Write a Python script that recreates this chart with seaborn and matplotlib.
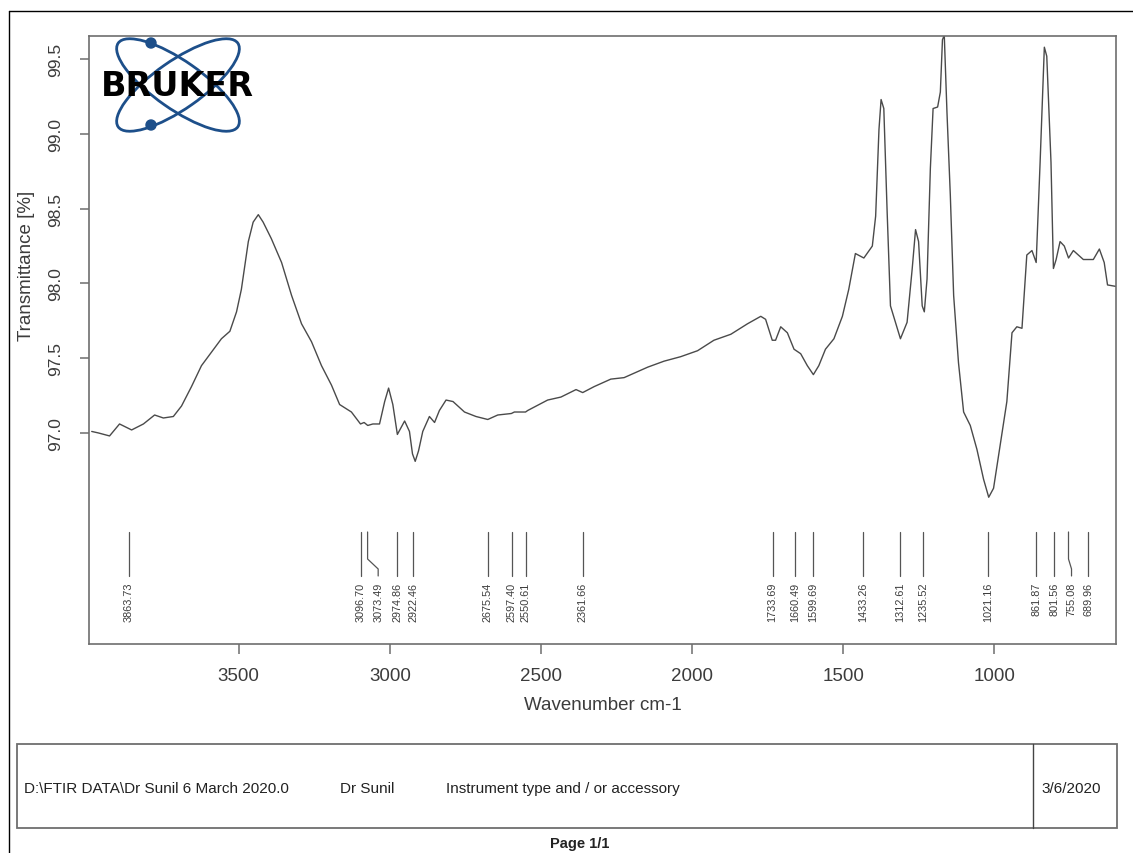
import pandas as pd
import seaborn as sns
import matplotlib.pyplot as plt
from matplotlib.patches import Ellipse, Circle, Rectangle
from matplotlib.transforms import blended_transform_factory

# spectrum (wavenumber cm-1, transmittance %)
wavenumber = [3986, 3964, 3927, 3894, 3854, 3815, 3778, 3749, 3716, 3689,
              3656, 3623, 3590, 3557, 3529, 3507, 3491, 3468, 3452, 3435,
              3419, 3392, 3358, 3325, 3292, 3259, 3226, 3193, 3166, 3127,
              3097, 3085, 3073, 3056, 3034, 3017, 3004, 2990, 2975, 2951,
              2935, 2925, 2916, 2905, 2891, 2869, 2852, 2836, 2814, 2791, 2753,
              2715, 2676, 2643, 2598, 2588, 2551, 2544, 2478, 2434, 2384,
              2362, 2324, 2269, 2225, 2147, 2093, 2038, 1982, 1928, 1872,
              1817, 1773, 1757, 1735, 1724, 1707, 1685, 1663, 1641, 1619,
              1599, 1581, 1559, 1531, 1503, 1482, 1460, 1432, 1404, 1393,
              1382, 1375, 1366, 1355, 1344, 1311, 1289, 1272, 1261, 1251,
              1239, 1232, 1223, 1212, 1203, 1188, 1179, 1172, 1166, 1157,
              1146, 1135, 1119, 1102, 1080, 1058, 1036, 1019, 1003, 981,
              959, 942, 926, 909, 893, 876, 862, 849, 835, 827,
              813, 805, 796, 783, 769, 755, 739, 706, 673, 653,
              637, 626, 598]
transmittance = [97.01, 97.00, 96.98, 97.06, 97.02, 97.06, 97.12, 97.10, 97.11, 97.18,
                 97.31, 97.45, 97.54, 97.63, 97.68, 97.81, 97.96, 98.28, 98.41, 98.46,
                 98.41, 98.30, 98.14, 97.92, 97.73, 97.61, 97.45, 97.32, 97.19, 97.14,
                 97.06, 97.07, 97.05, 97.06, 97.06, 97.21, 97.30, 97.19, 96.99, 97.08,
                 97.01, 96.86, 96.81, 96.88, 97.01, 97.11, 97.07, 97.15, 97.22, 97.21, 97.14,
                 97.11, 97.09, 97.12, 97.13, 97.14, 97.14, 97.15, 97.22, 97.24, 97.29,
                 97.27, 97.31, 97.36, 97.37, 97.44, 97.48, 97.51, 97.55, 97.62, 97.66,
                 97.73, 97.78, 97.76, 97.62, 97.62, 97.71, 97.67, 97.56, 97.53, 97.45,
                 97.39, 97.45, 97.56, 97.63, 97.78, 97.96, 98.20, 98.17, 98.25, 98.45,
                 99.03, 99.23, 99.17, 98.48, 97.85, 97.63, 97.74, 98.10, 98.36, 98.28,
                 97.85, 97.81, 98.03, 98.77, 99.17, 99.18, 99.28, 99.63, 99.66, 99.14,
                 98.59, 97.92, 97.47, 97.14, 97.05, 96.89, 96.69, 96.57, 96.63, 96.92,
                 97.21, 97.67, 97.71, 97.70, 98.19, 98.22, 98.14, 98.81, 99.58, 99.52,
                 98.81, 98.10, 98.16, 98.28, 98.25, 98.17, 98.22, 98.16, 98.16, 98.23,
                 98.14, 97.99, 97.98]

peaks = [3863.73, 3096.70, 3073.49, 2974.86, 2922.46, 2675.54, 2597.40, 2550.61,
         2361.66, 1733.69, 1660.49, 1599.69, 1433.26, 1312.61, 1235.52, 1021.16,
         861.87, 801.56, 755.08, 689.96]
# labels pushed aside where they would collide
label_shift = {3073.49: -35, 755.08: -10}

x_ticks = [3500, 3000, 2500, 2000, 1500, 1000]
y_ticks = [97.0, 97.5, 98.0, 98.5, 99.0, 99.5]

footer_file = "D:\\FTIR DATA\\Dr Sunil 6 March 2020.0"
footer_user = "Dr Sunil"
footer_instr = "Instrument type and / or accessory"
footer_date = "3/6/2020"

sns.set_theme(style="ticks")
plt.rcParams["font.family"] = ["Liberation Sans", "DejaVu Sans"]

grey = "#6e6e6e"
txt = "#3c3c3c"

fig = plt.figure(figsize=(11.33, 8.54), dpi=100)
fig.patch.set_facecolor("white")
ax = fig.add_axes([0.07855, 0.24415, 0.90644, 0.71253])

df = pd.DataFrame({"wavenumber": wavenumber, "transmittance": transmittance})
sns.lineplot(data=df, x="wavenumber", y="transmittance", ax=ax, color="#4a4a4a",
             linewidth=1.0, estimator=None, sort=False)

ax.set_xlim(3995, 598)
ax.set_ylim(95.585, 99.655)
ax.set_xticks(x_ticks)
ax.set_xticklabels([str(t) for t in x_ticks])
ax.set_yticks(y_ticks)
ax.set_yticklabels([f"{t:.1f}" for t in y_ticks], rotation=90, va="center")

for s in ax.spines.values():
    s.set_color(grey)
    s.set_linewidth(1.2)
ax.tick_params(axis="x", direction="out", length=7, width=1.1, color=grey,
               labelsize=13.5, labelcolor=txt, pad=9)
ax.tick_params(axis="y", direction="out", length=6.5, width=1.1, color=grey,
               labelsize=12.5, labelcolor=txt, pad=12)

ax.set_xlabel("Wavenumber cm-1", fontsize=13.5, color=txt, va="center")
ax.xaxis.set_label_coords(0.5, -0.098)
ax.set_ylabel("Transmittance [%]", fontsize=13.5, color=txt, va="center")
ax.yaxis.set_label_coords(-0.0607, 0.624)

# peak markers
trans = blended_transform_factory(ax.transData, ax.transAxes)
for p in peaks:
    lx = p + label_shift.get(p, 0)
    ax.plot([p, p, lx, lx], [0.1849, 0.1405, 0.1241, 0.1126], transform=trans,
            color="#555555", linewidth=0.9)
    ax.text(lx, 0.1031, f"{p:.2f}", transform=trans, rotation=90, ha="center",
            va="top", fontsize=7.8, color=txt)

# page decorations in pixel coordinates
ov = fig.add_axes([0, 0, 1, 1], zorder=5)
ov.set_xlim(0, 1133)
ov.set_ylim(854, 0)
ov.axis("off")

ov.plot([9.3, 9.3], [11.7, 854], color="black", linewidth=1.0)
ov.plot([9.3, 1133], [11.7, 11.7], color="black", linewidth=1.0)

blue = "#1d4f8a"
ov.add_patch(Ellipse((178, 86), 146, 48, angle=35, fill=False, ec=blue, lw=2.0))
ov.add_patch(Ellipse((178, 86), 146, 48, angle=-35, fill=False, ec=blue, lw=2.0))
ov.add_patch(Circle((151, 44), 5, color=blue))
ov.add_patch(Circle((151, 126), 5, color=blue))
ov.text(177, 86, "BRUKER", fontsize=24, fontweight="heavy", family="DejaVu Sans",
        ha="center", va="center", color="black")

ov.add_patch(Rectangle((16.7, 745), 1100.3, 84, fill=False, ec=grey, lw=1.3))
ov.plot([1033, 1033], [745, 829], color="#444444", linewidth=1.0)
ov.text(24, 789, footer_file, fontsize=11, color="#222222", va="center")
ov.text(340, 789, footer_user, fontsize=11, color="#222222", va="center")
ov.text(446, 789, footer_instr, fontsize=11, color="#222222", va="center")
ov.text(1041, 789, footer_date, fontsize=11, color="#222222", va="center")
ov.text(580, 837, "Page 1/1", fontsize=10.5, fontweight="bold", color="#222222",
        ha="center", va="top")

plt.savefig("out.png", dpi=100)
